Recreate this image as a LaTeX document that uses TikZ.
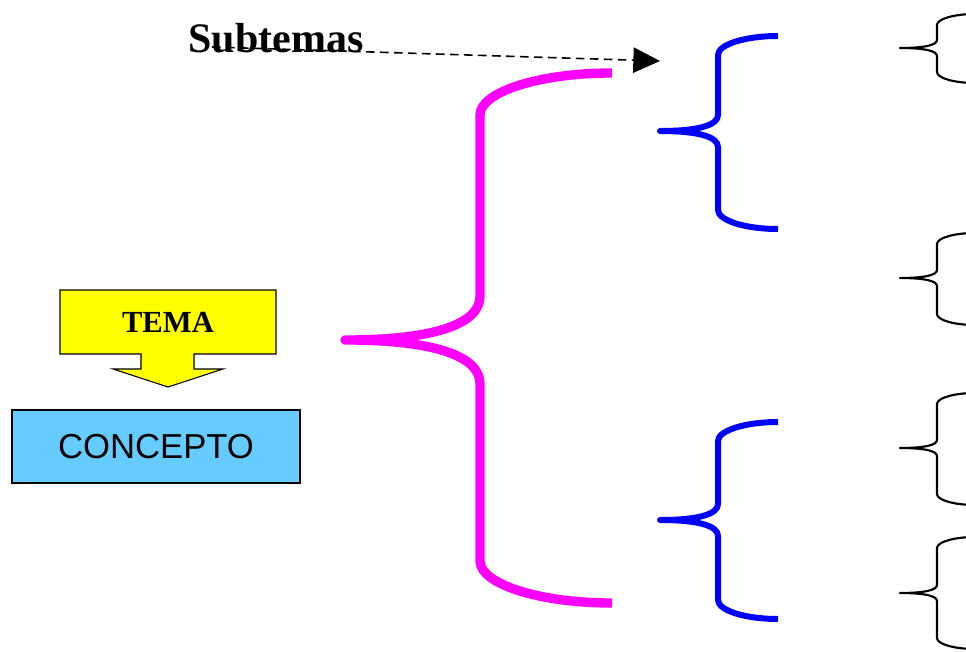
\documentclass[tikz,border=0pt]{standalone}
\usepackage{fontspec}
\newfontfamily\serifbold{Liberation Serif}
\newfontfamily\sansarial{Liberation Sans}
\usetikzlibrary{arrows.meta}
\definecolor{pinkc}{HTML}{FF00FF}
\definecolor{bluec}{HTML}{0000FF}
\definecolor{yellowc}{HTML}{FFFF00}
\definecolor{skyc}{HTML}{66CCFF}
\newcommand\drawbrace[9]{%
 \draw[#1] (#2,#5) .. controls +({-0.55*(#2-#3)},0) and +(0,{-0.55*#8}) .. (#3,#5+#8)
 -- (#3,#6-#9) .. controls +(0,{0.65*#9}) and +({0.65*(#3-#4)},0) .. (#4,#6)
 .. controls +({0.65*(#3-#4)},0) and +(0,{-0.65*#9}) .. (#3,#6+#9)
 -- (#3,#7-#8) .. controls +(0,{0.55*#8}) and +({-0.55*(#2-#3)},0) .. (#2,#7);}
\tikzset{
 pinkbrace/.style={pinkc,line width=7pt,line join=round,line cap=butt},
 bluebrace/.style={bluec,line width=4.5pt,line join=round,line cap=butt},
 blackbrace/.style={black,line width=1.6pt,line join=round},
 temaarrow/.style={fill=yellowc,draw=black,line width=0.8pt},
 conceptbox/.style={draw=black,line width=0.8pt,fill=skyc,minimum width=216pt,minimum height=54.75pt,inner sep=0pt,font=\sansarial\fontsize{26}{30}\selectfont},
 tematext/.style={font=\serifbold\bfseries\fontsize{23}{27}\selectfont,inner sep=0pt},
 subtext/.style={font=\serifbold\bfseries\fontsize{31.5}{36}\selectfont,inner sep=0pt,anchor=base},
 dashlink/.style={black,line width=1.2pt,dash pattern=on 6.5pt off 4pt,-{Triangle[length=20pt,width=19pt]}}
}
\begin{document}
\begin{tikzpicture}[x=0.75pt,y=-0.75pt]
\useasboundingbox (0,0) rectangle (966,652);
\clip (0,0) rectangle (966,652);
% TEMA arrow
\draw[temaarrow] (60,290) -- (276,290) -- (276,354) -- (194,354) -- (194,369) -- (223,369)
 -- (168,387) -- (113,369) -- (141,369) -- (141,354) -- (60,354) -- cycle;
\node[tematext] (tema) at (168,322) {TEMA};
\node[conceptbox] (concepto) at (156,446.5) {CONCEPTO};
% Subtemas
\node[subtext] (sub) at (276,53) {Subtemas};
\coordinate (s0) at (212,47);
\coordinate (s1) at (660,61);
\draw[dashlink] (s0) -- (s1);
% braces
\drawbrace{pinkbrace}{612}{480}{345}{73}{340}{603}{42}{44}
\drawbrace{bluebrace}{778}{718}{660}{36}{131}{229}{19}{16}
\drawbrace{bluebrace}{778}{718}{660}{422}{520}{619}{19}{16}
\drawbrace{blackbrace}{975}{937}{900}{14}{48}{83}{11}{8}
\drawbrace{blackbrace}{975}{937}{900}{233}{278}{325}{11}{8}
\drawbrace{blackbrace}{975}{937}{900}{393}{448}{505}{11}{8}
\drawbrace{blackbrace}{975}{937}{900}{537}{593}{649}{11}{8}
\end{tikzpicture}
\end{document}
